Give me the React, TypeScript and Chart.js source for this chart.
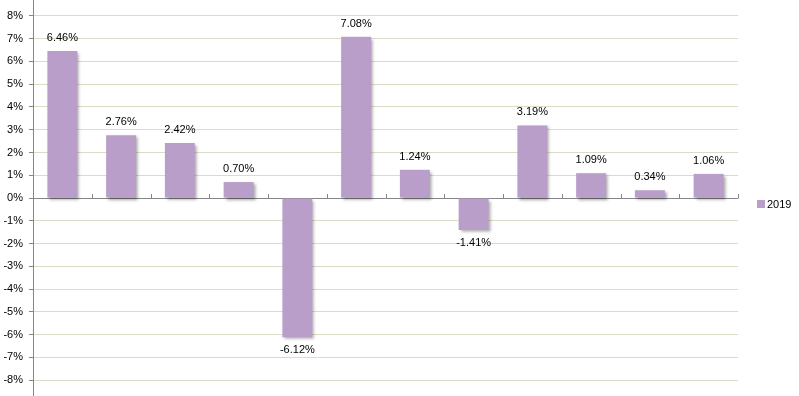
import React, { useEffect, useRef } from "react";
import { Chart, registerables } from "chart.js";

Chart.register(...registerables);

const categories = ["1", "2", "3", "4", "5", "6", "7", "8", "9", "10", "11", "12"];
const seriesName = "2019";
const values2019 = [6.46, 2.76, 2.42, 0.7, -6.12, 7.08, 1.24, -1.41, 3.19, 1.09, 0.34, 1.06];
const yTicks = [-8, -7, -6, -5, -4, -3, -2, -1, 0, 1, 2, 3, 4, 5, 6, 7, 8];

const BAR = "#b89ec8";
const FONT = "11px 'Liberation Sans', Arial, sans-serif";

const overlay = {
  id: "overlay",
  beforeDatasetsDraw(chart: any) {
    const ctx = chart.ctx;
    const { left, right, top, bottom } = chart.chartArea;
    const y = chart.scales.y;
    const y0 = y.getPixelForValue(0);
    ctx.save();
    ctx.strokeStyle = "#868686";
    ctx.lineWidth = 1;
    ctx.beginPath();
    ctx.moveTo(left, Math.round(y0) + 0.5);
    ctx.lineTo(right, Math.round(y0) + 0.5);
    const n = categories.length;
    for (let i = 1; i <= n; i++) {
      const x = Math.round(left + ((right - left) * i) / n) + 0.5;
      ctx.moveTo(x, Math.round(y0) + 0.5);
      ctx.lineTo(x, Math.round(y0) - 4);
    }
    ctx.stroke();
    ctx.restore();
    ctx.save();
    ctx.shadowColor = "rgba(0,0,0,0.35)";
    ctx.shadowBlur = 3;
    ctx.shadowOffsetX = 2;
    ctx.shadowOffsetY = 2;
  },
  afterDatasetsDraw(chart: any) {
    const ctx = chart.ctx;
    ctx.restore();
    const meta = chart.getDatasetMeta(0);
    ctx.save();
    ctx.font = FONT;
    ctx.fillStyle = "#000";
    ctx.textAlign = "center";
    ctx.textBaseline = "middle";
    meta.data.forEach((bar: any, i: number) => {
      const v = values2019[i];
      const yy = v >= 0 ? bar.y - 13 : bar.y + 13;
      ctx.fillText(v.toFixed(2) + "%", bar.x, yy);
    });
    // legend
    ctx.fillStyle = BAR;
    ctx.fillRect(757, 200, 8, 8);
    ctx.fillStyle = "#000";
    ctx.textAlign = "left";
    ctx.fillText(seriesName, 767, 204.5);
    ctx.restore();
  },
};

export default function App() {
  const ref = useRef<HTMLCanvasElement | null>(null);
  useEffect(() => {
    document.body.style.margin = "0";
    const chart = new Chart(ref.current as HTMLCanvasElement, {
      type: "bar",
      data: {
        labels: categories,
        datasets: [
          {
            label: seriesName,
            data: values2019,
            backgroundColor: BAR,
            borderWidth: 0,
            barPercentage: 1,
            categoryPercentage: 0.51,
          },
        ],
      },
      options: {
        animation: false,
        responsive: false,
        maintainAspectRatio: false,
        layout: { padding: { top: 0, bottom: 0, left: 0, right: 61 } },
        plugins: { legend: { display: false }, tooltip: { enabled: false } },
        scales: {
          x: { display: false, offset: true },
          y: {
            min: -8.7,
            max: 8.7,
            afterBuildTicks: (scale: any) => {
              scale.ticks = yTicks.map((v) => ({ value: v }));
            },
            afterFit: (scale: any) => {
              scale.width = 33;
              scale.paddingTop = 0;
              scale.paddingBottom = 0;
            },
            grid: {
              color: "#dcdcc6",
              tickColor: "#868686",
              tickLength: 4,
              lineWidth: 1,
            },
            border: { display: true, color: "#868686" },
            ticks: {
              padding: 6,
              color: "#000",
              font: { family: "'Liberation Sans', Arial, sans-serif", size: 11 },
              callback: (v: any) => v + "%",
            },
          },
        },
      },
      plugins: [overlay],
    });
    return () => chart.destroy();
  }, []);
  return (
    <div style={{ position: "fixed", left: 0, top: 0, width: 799, height: 396, background: "#fff" }}>
      <canvas ref={ref} width={799} height={396} style={{ width: 799, height: 396 }} />
    </div>
  );
}
